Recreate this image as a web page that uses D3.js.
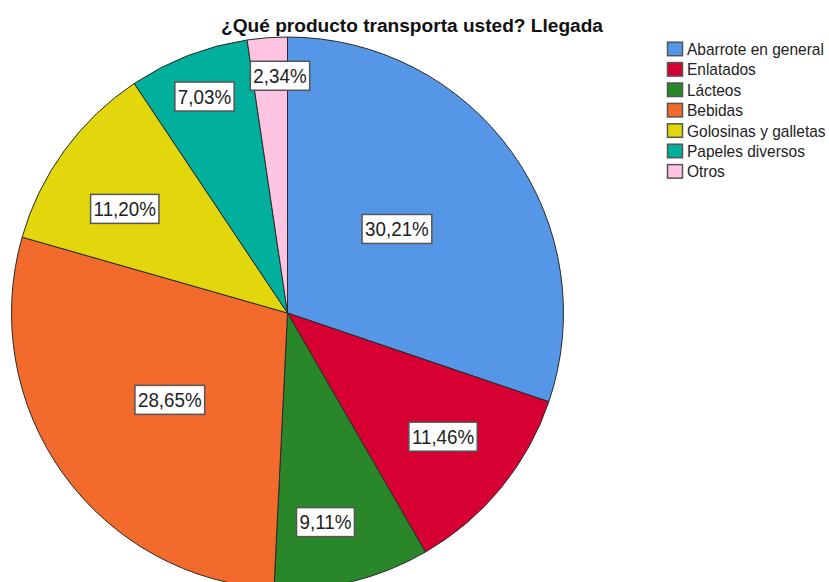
<!DOCTYPE html>
<html><head><meta charset="utf-8">
<script src="https://cdn.jsdelivr.net/npm/d3@7"></script>
<style>body{margin:0;background:#fff}svg{display:block}</style>
</head><body>
<svg id="c" width="829" height="582"></svg>
<script>
const title = "¿Qué producto transporta usted? Llegada";
const categories = ["Abarrote en general","Enlatados","Lácteos","Bebidas","Golosinas y galletas","Papeles diversos","Otros"];
const values = [30.21, 11.46, 9.11, 28.65, 11.20, 7.03, 2.34];
const colors = ["#5596e6","#d70032","#29872a","#f26a2c","#e2d70d","#00af9c","#ffc4e2"];
// label placement (layout only): fraction of radius and angle shift (degrees) from mid-angle
const labelRadius = [0.50, 0.72, 0.77, 0.53, 0.70, 0.84, 0.86];
const labelShift = [-1.9, -0.9, 3.3, -0.8, -3.5, 0.1, 2.4];

const svg = d3.select("#c");
const cx = 287.5, cy = 313, r = 276;
const fmt = v => v.toFixed(2).replace(".", ",") + "%";

svg.append("text").attr("x", 412).attr("y", 32).attr("text-anchor","middle")
  .attr("font-family","Liberation Sans, Arial, sans-serif").attr("font-weight","bold")
  .attr("font-size", 19.1).attr("fill","#111").text(title);

const pie = d3.pie().sort(null).value(d => d)(values);
const arc = d3.arc().innerRadius(0).outerRadius(r);
const g = svg.append("g").attr("transform", `translate(${cx},${cy})`);
g.selectAll("path").data(pie).join("path")
  .attr("d", arc).attr("fill", (d,i) => colors[i])
  .attr("stroke", "#2a2a2a").attr("stroke-width", 1);

const lab = g.selectAll("g.lab").data(pie).join("g").attr("class","lab")
  .attr("transform", (d,i) => {
    const a = (d.startAngle + d.endAngle) / 2 + labelShift[i] * Math.PI / 180, k = labelRadius[i] * r;
    return `translate(${k*Math.sin(a)},${-k*Math.cos(a)})`;
  });
lab.each(function(d,i){
  const gg = d3.select(this);
  const t = gg.append("text").attr("text-anchor","middle").attr("y", 0)
    .attr("dominant-baseline","central")
    .attr("font-family","Liberation Sans, Arial, sans-serif").attr("font-size", 18.8)
    .attr("fill","#222").attr("transform","scale(1,1.1)").text(fmt(values[i]));
  const w = t.node().getComputedTextLength();
  gg.insert("rect","text").attr("x", -w/2 - 3).attr("y", -14.5).attr("width", w + 6).attr("height", 29)
    .attr("fill","#fff").attr("stroke","#555").attr("stroke-width",1.5);
});

const leg = svg.append("g");
const rows = leg.selectAll("g").data(categories).join("g")
  .attr("transform", (d,i) => `translate(667,${48.7 + i*20.4})`);
rows.append("rect").attr("x",0.5).attr("y",-6.5).attr("width",15).attr("height",13.5)
  .attr("fill",(d,i)=>colors[i]).attr("stroke","#555").attr("stroke-width",1.5);
rows.append("text").attr("x",20).attr("y",0).attr("dominant-baseline","central")
  .attr("font-family","Liberation Sans, Arial, sans-serif").attr("font-size",15.5)
  .attr("fill","#222").attr("transform","translate(20,0) scale(1,1.12) translate(-20,0)").text(d=>d);
</script>
</body></html>
